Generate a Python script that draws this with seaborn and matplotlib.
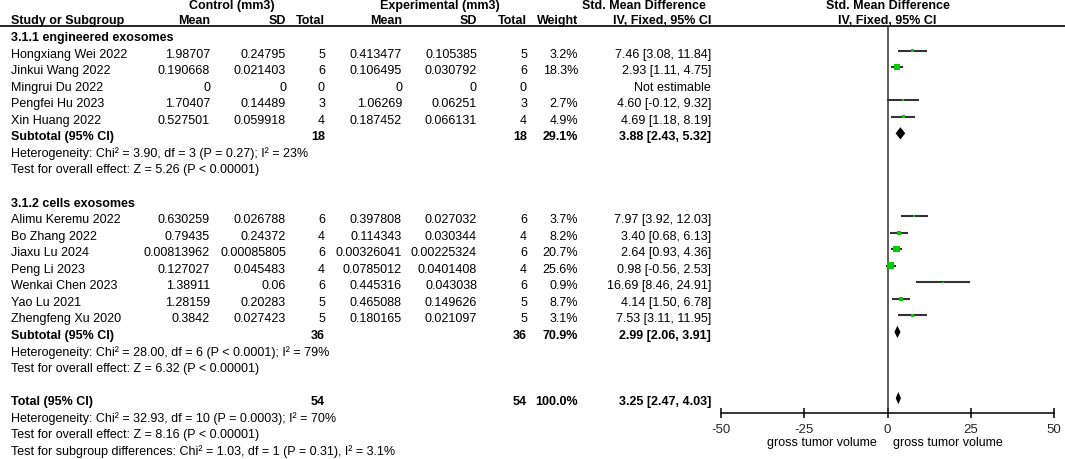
import matplotlib
matplotlib.use("Agg")
import numpy as np
import pandas as pd
import matplotlib.pyplot as plt
import seaborn as sns

# study data
studies = ["Hongxiang Wei 2022", "Jinkui Wang 2022", "Mingrui Du 2022", "Pengfei Hu 2023",
           "Xin Huang 2022",
           "Alimu Keremu 2022", "Bo Zhang 2022", "Jiaxu Lu 2024", "Peng Li 2023",
           "Wenkai Chen 2023", "Yao Lu 2021", "Zhengfeng Xu 2020"]
group = [1, 1, 1, 1, 1, 2, 2, 2, 2, 2, 2, 2]
ctrl_mean = [1.98707, 0.190668, 0, 1.70407, 0.527501,
             0.630259, 0.79435, 0.00813962, 0.127027, 1.38911, 1.28159, 0.3842]
ctrl_sd = [0.24795, 0.021403, 0, 0.14489, 0.059918,
           0.026788, 0.24372, 0.00085805, 0.045483, 0.06, 0.20283, 0.027423]
ctrl_n = [5, 6, 0, 3, 4, 6, 4, 6, 4, 6, 5, 5]
exp_mean = [0.413477, 0.106495, 0, 1.06269, 0.187452,
            0.397808, 0.114343, 0.00326041, 0.0785012, 0.445316, 0.465088, 0.180165]
exp_sd = [0.105385, 0.030792, 0, 0.06251, 0.066131,
          0.027032, 0.030344, 0.00225324, 0.0401408, 0.043038, 0.149626, 0.021097]
exp_n = [5, 6, 0, 3, 4, 6, 4, 6, 4, 6, 5, 5]
weight = [3.2, 18.3, None, 2.7, 4.9, 3.7, 8.2, 20.7, 25.6, 0.9, 8.7, 3.1]
smd = [7.46, 2.93, None, 4.60, 4.69, 7.97, 3.40, 2.64, 0.98, 16.69, 4.14, 7.53]
ci_lo = [3.08, 1.11, None, -0.12, 1.18, 3.92, 0.68, 0.93, -0.56, 8.46, 1.50, 3.11]
ci_hi = [11.84, 4.75, None, 9.32, 8.19, 12.03, 6.13, 4.36, 2.53, 24.91, 6.78, 11.95]

# pooled results
pooled_names = ["Subtotal (95% CI)", "Subtotal (95% CI)", "Total (95% CI)"]
pooled_n = [18, 36, 54]
pooled_w = [29.1, 70.9, 100.0]
pooled_est = [3.88, 2.99, 3.25]
pooled_lo = [2.43, 2.06, 2.47]
pooled_hi = [5.32, 3.91, 4.03]
group_titles = ["3.1.1 engineered exosomes", "3.1.2 cells exosomes"]
stats_lines = [
    ["Heterogeneity: Chi\u00b2 = 3.90, df = 3 (P = 0.27); I\u00b2 = 23%",
     "Test for overall effect: Z = 5.26 (P < 0.00001)"],
    ["Heterogeneity: Chi\u00b2 = 28.00, df = 6 (P < 0.0001); I\u00b2 = 79%",
     "Test for overall effect: Z = 6.32 (P < 0.00001)"],
    ["Heterogeneity: Chi\u00b2 = 32.93, df = 10 (P = 0.0003); I\u00b2 = 70%",
     "Test for overall effect: Z = 8.16 (P < 0.00001)",
     "Test for subgroup differences: Chi\u00b2 = 1.03, df = 1 (P = 0.31), I\u00b2 = 3.1%"],
]
x_ticks = [-50, -25, 0, 25, 50]
favours = ["gross tumor volume", "gross tumor volume"]

# row layout: every line of the table is one row
rows_study = []
rows_pooled = []
rows_title = []
rows_stats = []
r = 0
for g in (1, 2):
    rows_title.append(r)
    r += 1
    for i, gg in enumerate(group):
        if gg == g:
            rows_study.append(r)
            r += 1
    rows_pooled.append(r)
    r += 1
    rows_stats.append([r, r + 1])
    r += 3
rows_pooled.append(r)
rows_stats.append([r + 1, r + 2, r + 3])

df = pd.DataFrame({"study": studies, "row": rows_study, "smd": smd, "lo": ci_lo,
                   "hi": ci_hi, "weight": weight})
df_est = df.dropna(subset=["smd"])

sns.set_theme(style="white")
plt.rcParams["font.family"] = ["Liberation Sans", "DejaVu Sans"]
FS = 9

W, H = 1065, 460
fig = plt.figure(figsize=(W / 100, H / 100), dpi=100)

# pixel layout: rows ~16.5 px apart; marks sit slightly above the text lines
pitch = 16.55
y0_text, y0_mark = 38.0, 35.0

# text axes covering the whole figure
tax = fig.add_axes([0, 0, 1, 1])
tax.set_xlim(0, W)
tax.set_ylim((H - y0_text) / pitch, -y0_text / pitch)
tax.axis("off")

def trow(y):
    # pixel y -> row units of the text axes
    return (y - y0_text) / pitch

col_mean_c, col_sd_c, col_n_c = 210, 286, 325
col_mean_e, col_sd_e, col_n_e = 402, 477, 527
col_w, col_ci = 578, 711
x_name = 11
x_zero = 887.5

def t(x, y, s, ha="right", bold=False):
    tax.text(x, y, s, ha=ha, va="center", fontsize=FS,
             fontweight="bold" if bold else "normal", color="black")

# headers
h1, h2 = trow(5.5), trow(20.5)
t(232, h1, "Control (mm3)", ha="center", bold=True)
t(440, h1, "Experimental (mm3)", ha="center", bold=True)
t(644, h1, "Std. Mean Difference", ha="center", bold=True)
t(x_zero, h1, "Std. Mean Difference", ha="center", bold=True)
t(x_name, h2, "Study or Subgroup", ha="left", bold=True)
t(col_mean_c, h2, "Mean", bold=True)
t(col_sd_c, h2, "SD", bold=True)
t(col_n_c, h2, "Total", bold=True)
t(col_mean_e, h2, "Mean", bold=True)
t(col_sd_e, h2, "SD", bold=True)
t(col_n_e, h2, "Total", bold=True)
t(col_w, h2, "Weight", bold=True)
t(col_ci, h2, "IV, Fixed, 95% CI", bold=True)
t(x_zero, h2, "IV, Fixed, 95% CI", ha="center", bold=True)
tax.plot([0, W], [trow(26.5)] * 2, color="black", lw=1.2)

for title, rr in zip(group_titles, rows_title):
    t(x_name, rr, title, ha="left", bold=True)

for i, rr in enumerate(rows_study):
    t(x_name, rr, studies[i], ha="left")
    t(col_mean_c, rr, f"{ctrl_mean[i]:g}")
    t(col_sd_c, rr, f"{ctrl_sd[i]:g}")
    t(col_n_c, rr, str(ctrl_n[i]))
    t(col_mean_e, rr, f"{exp_mean[i]:g}")
    t(col_sd_e, rr, f"{exp_sd[i]:g}")
    t(col_n_e, rr, str(exp_n[i]))
    if weight[i] is None:
        t(col_ci, rr, "Not estimable")
    else:
        t(col_w, rr, f"{weight[i]:.1f}%")
        t(col_ci, rr, f"{smd[i]:.2f} [{ci_lo[i]:.2f}, {ci_hi[i]:.2f}]")

for i, rr in enumerate(rows_pooled):
    t(x_name, rr, pooled_names[i], ha="left", bold=True)
    t(col_n_c, rr, str(pooled_n[i]), bold=True)
    t(col_n_e, rr, str(pooled_n[i]), bold=True)
    t(col_w, rr, f"{pooled_w[i]:.1f}%", bold=True)
    t(col_ci, rr, f"{pooled_est[i]:.2f} [{pooled_lo[i]:.2f}, {pooled_hi[i]:.2f}]", bold=True)

for lines, rws in zip(stats_lines, rows_stats):
    for s, rr in zip(lines, rws):
        t(x_name, rr, s, ha="left")

# forest panel
ax_top, ax_bot = 26.5, 414
left, right = 721 / W, 1054 / W
ax = fig.add_axes([left, 1 - ax_bot / H, right - left, (ax_bot - ax_top) / H])
ax.set_xlim(x_ticks[0], x_ticks[-1])
ax.set_ylim((ax_bot - y0_mark) / pitch, (ax_top - y0_mark) / pitch)
ax.patch.set_alpha(0)

ax.axvline(0, color="#333333", lw=1.1, zorder=1)
ax.hlines(df_est["row"], df_est["lo"], df_est["hi"], color="#333333", lw=1.5, zorder=2)
wmin, wmax = df_est["weight"].min(), df_est["weight"].max()
k = 1.05
sns.scatterplot(data=df_est, x="smd", y="row", size="weight",
                sizes=(k * wmin, k * wmax), size_norm=(wmin, wmax),
                marker="s", color="#00cc00", linewidth=0, legend=False, ax=ax, zorder=3)

dh = 0.37
for rr, e, lo, hi in zip(rows_pooled, pooled_est, pooled_lo, pooled_hi):
    ax.fill([lo, e, hi, e], [rr, rr - dh, rr, rr + dh], color="black", lw=0, zorder=4)

for side in ("top", "right", "left"):
    ax.spines[side].set_visible(False)
ax.spines["bottom"].set_color("black")
ax.spines["bottom"].set_linewidth(1.1)
ax.set_yticks([])
ax.set_xticks(x_ticks)
ax.set_xticklabels([str(v) for v in x_ticks])
ax.tick_params(axis="x", direction="inout", length=7, width=1.1, color="black",
               labelsize=FS + 0.5, pad=4, bottom=True)
ax.set_xlabel("")
ax.set_ylabel("")

fy = trow(443)
t(877, fy, favours[0], ha="right")
t(893, fy, favours[1], ha="left")

fig.savefig("out.png", dpi=100)
